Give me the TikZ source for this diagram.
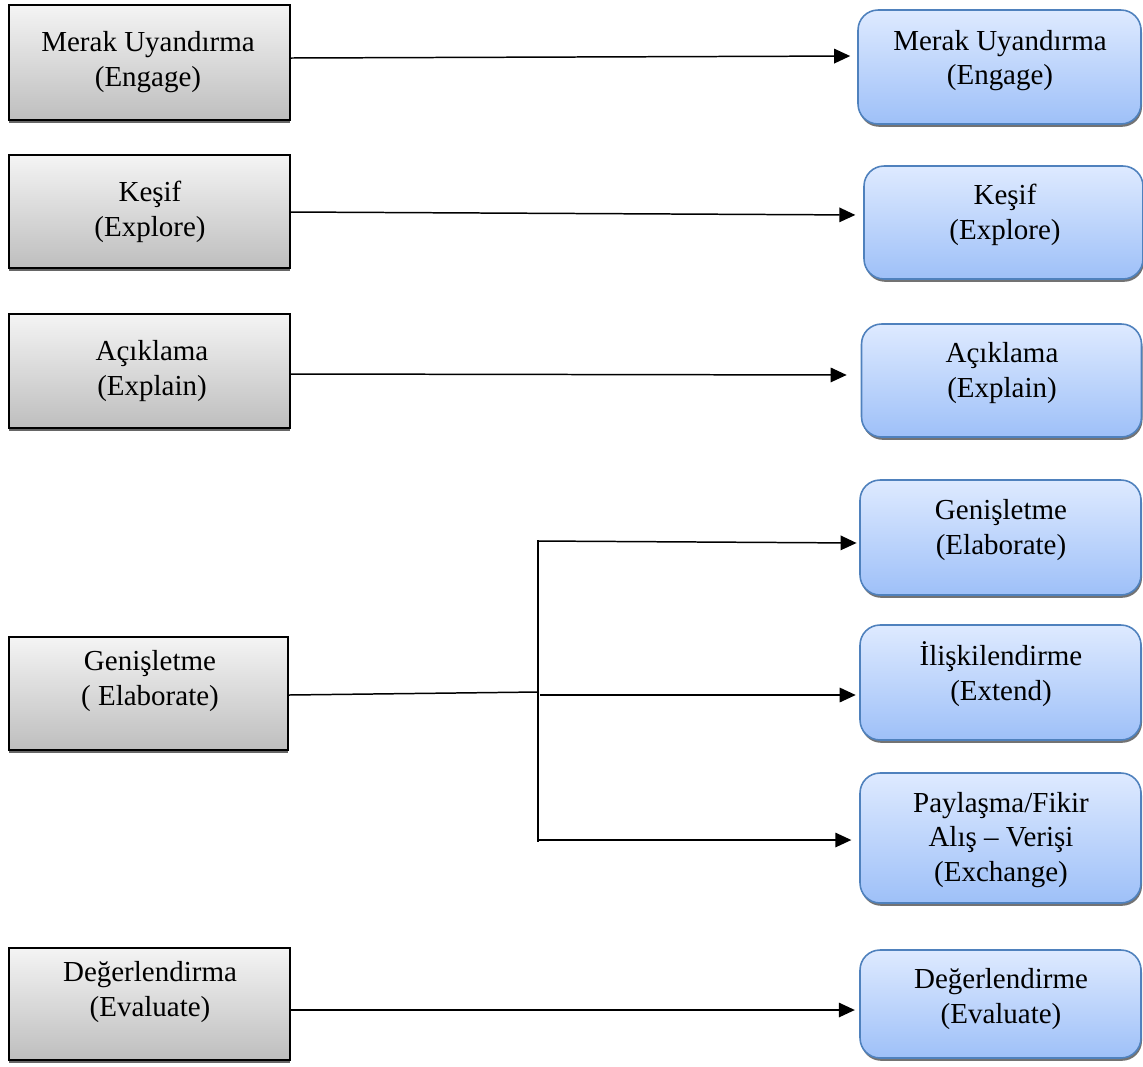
\documentclass[tikz,border=0pt]{standalone}
\usepackage{fontspec}
\setmainfont{Liberation Serif}
\usetikzlibrary{arrows.meta,shadows}
\definecolor{rborder}{RGB}{79,129,189}
\definecolor{rtop}{RGB}{222,234,255}
\definecolor{rbot}{RGB}{158,192,248}
\definecolor{ltop}{RGB}{244,244,244}
\definecolor{lbot}{RGB}{190,190,190}
\tikzset{
  lbox/.style={draw=black, line width=1.1pt, top color=ltop, bottom color=lbot,
    minimum width=5.62cm, drop shadow={shadow xshift=0pt, shadow yshift=-1.6pt, fill=black!60, opacity=1}},
  rbox/.style={draw=rborder, line width=0.9pt, rounded corners=0.4cm, top color=rtop, bottom color=rbot,
    minimum width=5.6cm, drop shadow={shadow xshift=0.6pt, shadow yshift=-1.6pt, fill=black!55, opacity=1}},
  txt/.style={align=center, font=\fontsize{16.5}{19.6}\selectfont, inner sep=0pt},
  arr/.style={line width=0.85pt, -{Triangle[length=0.32cm,width=0.29cm]}},
  ln/.style={line width=0.85pt}
}
\begin{document}
\begin{tikzpicture}[x=0.02cm,y=-0.02cm]
\useasboundingbox (0,0) rectangle (1143,1066);
% left boxes
\node[lbox, minimum height=2.3cm] (L1) at (149.5,62.5) {};
\node[lbox, minimum height=2.26cm] (L2) at (149.5,211.5) {};
\node[lbox, minimum height=2.28cm] (L3) at (149.5,371) {};
\node[lbox, minimum height=2.26cm, minimum width=5.58cm] (L4) at (148.5,693.5) {};
\node[lbox, minimum height=2.24cm] (L5) at (149.5,1004) {};
% right boxes
\node[rbox, minimum height=2.28cm, minimum width=5.66cm] (R1) at (999.5,67) {};
\node[rbox, minimum height=2.26cm, minimum width=5.58cm] (R2) at (1003.5,222.5) {};
\node[rbox, minimum height=2.26cm] (R3) at (1001.5,380.5) {};
\node[rbox, minimum height=2.3cm, minimum width=5.62cm] (R4) at (1000.5,537.5) {};
\node[rbox, minimum height=2.3cm, minimum width=5.62cm] (R5) at (1000.5,682.5) {};
\node[rbox, minimum height=2.6cm, minimum width=5.62cm] (R6) at (1000.5,838) {};
\node[rbox, minimum height=2.16cm, minimum width=5.62cm] (R7) at (1000.5,1004) {};
% texts
\node[txt] (tL1) at (148,62) {Merak Uyandırma\\(Engage)};
\node[txt] (tL2) at (150,212) {Keşif\\(Explore)};
\node[txt] (tL3) at (152,371) {Açıklama\\(Explain)};
\node[txt] (tL4) at (150,681) {Genişletme\\( Elaborate)};
\node[txt] (tL5) at (150,992) {Değerlendirma\\(Evaluate)};
\node[txt] (tR1) at (1000,60.5) {Merak Uyandırma\\(Engage)};
\node[txt] (tR2) at (1005,215) {Keşif\\(Explore)};
\node[txt] (tR3) at (1002,373) {Açıklama\\(Explain)};
\node[txt] (tR4) at (1001,530) {Genişletme\\(Elaborate)};
\node[txt] (tR5) at (1001,674) {İlişkilendirme\\(Extend)};
\node[txt] (tR6) at (1001,840) {Paylaşma/Fikir\\Alış – Verişi\\(Exchange)};
\node[txt] (tR7) at (1001,999) {Değerlendirme\\(Evaluate)};
% connectors
\coordinate (J) at (538,692);
\coordinate (Jtop) at (538,540);
\coordinate (Jbot) at (538,842);
\coordinate (J1) at (538,541);
\coordinate (J2) at (540,695);
\coordinate (J3) at (538,840);
\draw[arr, shorten >=4pt] (L1.east |- 0,58) -- (R1.west |- 0,56);
\draw[arr, shorten >=4.5pt] (L2.east |- 0,212) -- (R2.west |- 0,215);
\draw[arr, shorten >=8pt] (L3.east |- 0,374) -- (R3.west |- 0,375);
\draw[ln] (L4.east |- 0,695) -- (J);
\draw[ln] (Jtop) -- (Jbot);
\draw[arr, shorten >=1.5pt] (J1) -- (R4.west |- 0,543);
\draw[arr, shorten >=2pt] (J2) -- (R5.west |- 0,695);
\draw[arr, shorten >=4.5pt] (J3) -- (R6.west |- 0,840);
\draw[arr, shorten >=2.5pt] (L5.east |- 0,1010) -- (R7.west |- 0,1010);
\end{tikzpicture}
\end{document}
